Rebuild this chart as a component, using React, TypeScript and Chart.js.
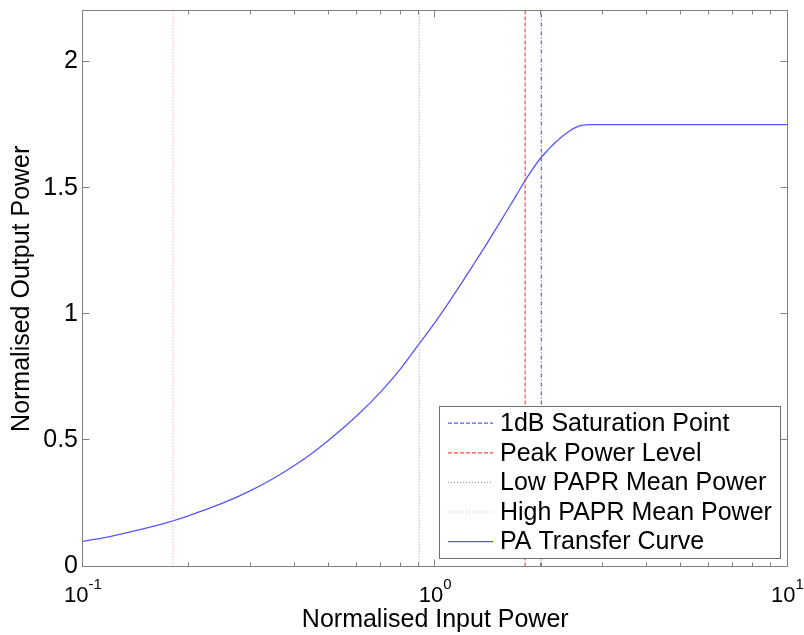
import React, { useEffect, useRef } from 'react';
import { Chart, registerables } from 'chart.js';

Chart.register(...registerables);

// ---- data ----
const curveInput = [0.1, 0.12, 0.15, 0.18, 0.2, 0.25, 0.3, 0.35, 0.4, 0.45, 0.5, 0.6, 0.7, 0.8, 0.9, 1.0, 1.1, 1.2, 1.3, 1.4, 1.5, 1.6, 1.7, 1.8, 1.9, 2.0, 2.1, 2.2, 2.3, 2.4, 2.5, 2.6, 2.75, 3, 4, 6, 10];
const curveOutput = [0.1, 0.12, 0.151, 0.181, 0.202, 0.252, 0.302, 0.352, 0.402, 0.452, 0.502, 0.598, 0.692, 0.786, 0.882, 0.968, 1.052, 1.132, 1.208, 1.278, 1.346, 1.41, 1.471, 1.529, 1.579, 1.621, 1.653, 1.681, 1.705, 1.724, 1.738, 1.747, 1.75, 1.75, 1.75, 1.75, 1.75];
const curveLabel = 'PA Transfer Curve';

const markerLabels = ['1dB Saturation Point', 'Peak Power Level', 'Low PAPR Mean Power', 'High PAPR Mean Power'];
const markerInput = [2.0, 1.8, 0.9, 0.18];

const xRange = [0.1, 10];
const yRange = [0, 2.2];
const yTickValues = [0, 0.5, 1, 1.5, 2];
const xDecadeValues = [0.1, 1, 10];
const xDecadeExponents = ['-1', '0', '1'];

const xTitle = 'Normalised Input Power';
const yTitle = 'Normalised Output Power';

// ---- styles ----
const FONT = '"Liberation Sans", Arial, Helvetica, sans-serif';
const markerColors = ['rgb(90,90,255)', 'rgb(255,70,70)', 'rgb(160,160,160)', 'rgb(255,165,165)'];
const markerDashes = [[4, 2, 1, 2], [4, 2], [1, 2], [1, 2]];
const legendDashes = [[4, 2], [4, 2], [1, 2], [1, 2], []];
const markerWidth = 1.2;
const curveColor = 'rgb(85,85,255)';
const curveWidth = 1.3;
const frameColor = '#808080';

const framePlugin = {
  id: 'matlabFrame',
  afterDraw(chart: any) {
    const { ctx, chartArea, scales } = chart;
    const { left, right, top, bottom } = chartArea;
    const xs = scales.x;
    const ys = scales.y;
    const L = Math.round(left) - 0.5;
    const R = Math.round(right) - 0.5;
    const T = Math.round(top) - 0.5;
    const B = Math.round(bottom) - 0.5;
    ctx.save();
    ctx.strokeStyle = frameColor;
    ctx.lineWidth = 1;
    ctx.setLineDash([]);
    ctx.beginPath();
    yTickValues.forEach((v) => {
      const p = Math.round(ys.getPixelForValue(v)) - 0.5;
      ctx.moveTo(L, p); ctx.lineTo(L + 7, p);
      ctx.moveTo(R, p); ctx.lineTo(R - 7, p);
    });
    for (let d = -1; d <= 1; d++) {
      for (let k = 1; k <= 9; k++) {
        const v = k * Math.pow(10, d);
        if (v < xRange[0] - 1e-9 || v > xRange[1] + 1e-9) continue;
        const p = Math.round(xs.getPixelForValue(v)) - 0.5;
        const len = k === 1 ? 7 : 4;
        ctx.moveTo(p, B); ctx.lineTo(p, B - len);
        ctx.moveTo(p, T); ctx.lineTo(p, T + len);
      }
    }
    ctx.stroke();
    ctx.strokeRect(L, T, R - L, B - T);

    // x tick labels 10^n
    ctx.fillStyle = '#000';
    ctx.textBaseline = 'alphabetic';
    ctx.textAlign = 'left';
    xDecadeValues.forEach((v, i) => {
      const px = xs.getPixelForValue(v);
      ctx.font = `22px ${FONT}`;
      const wb = ctx.measureText('10').width;
      ctx.font = `15px ${FONT}`;
      const we = ctx.measureText(xDecadeExponents[i]).width;
      const x0 = px - (wb + we) / 2;
      ctx.font = `22px ${FONT}`;
      ctx.fillText('10', x0, 602);
      ctx.font = `15px ${FONT}`;
      ctx.fillText(xDecadeExponents[i], x0 + wb, 589);
    });

    // legend
    const bx = 439.5, by = 406.5, bw = 341, bh = 152;
    ctx.fillStyle = '#fff';
    ctx.fillRect(bx, by, bw, bh);
    ctx.strokeStyle = '#6e6e6e';
    ctx.lineWidth = 1;
    ctx.strokeRect(bx, by, bw, bh);
    ctx.font = `25px ${FONT}`;
    ctx.textBaseline = 'middle';
    const labels = [...markerLabels, curveLabel];
    const colors = [...markerColors, curveColor];
    labels.forEach((label, i) => {
      const cy = 423.2 + i * 29.6;
      ctx.strokeStyle = colors[i];
      ctx.lineWidth = i === labels.length - 1 ? curveWidth : markerWidth;
      ctx.setLineDash(legendDashes[i]);
      ctx.beginPath();
      ctx.moveTo(448, cy);
      ctx.lineTo(493, cy);
      ctx.stroke();
      ctx.setLineDash([]);
      ctx.fillStyle = '#000';
      ctx.fillText(label, 500, cy + 1);
    });
    ctx.restore();
  },
};

export default function App() {
  const canvasRef = useRef<HTMLCanvasElement | null>(null);

  useEffect(() => {
    document.body.style.margin = '0';
    const canvas = canvasRef.current;
    if (!canvas) return;
    Chart.defaults.font.family = FONT;
    Chart.defaults.color = '#000';

    const markerSets = markerLabels.map((label, i) => ({
      label,
      data: [
        { x: markerInput[i], y: yRange[0] },
        { x: markerInput[i], y: yRange[1] },
      ],
      showLine: true,
      borderColor: markerColors[i],
      borderWidth: markerWidth,
      borderDash: markerDashes[i],
      pointRadius: 0,
      fill: false,
    }));

    const curveSet = {
      label: curveLabel,
      data: curveInput.map((x, i) => ({ x, y: curveOutput[i] })),
      showLine: true,
      borderColor: curveColor,
      borderWidth: curveWidth,
      pointRadius: 0,
      fill: false,
      cubicInterpolationMode: 'monotone' as const,
    };

    const chart = new Chart(canvas, {
      type: 'scatter',
      data: { datasets: [...markerSets, curveSet] as any },
      options: {
        responsive: false,
        animation: false,
        devicePixelRatio: 1,
        layout: { padding: { top: 11, right: 16.5, left: 0, bottom: 0 } },
        plugins: { legend: { display: false }, tooltip: { enabled: false } },
        scales: {
          x: {
            type: 'logarithmic',
            min: xRange[0],
            max: xRange[1],
            grid: { display: false, drawTicks: false },
            border: { display: false },
            ticks: { display: false },
            title: {
              display: true,
              text: xTitle,
              color: '#000',
              font: { family: FONT, size: 25, lineHeight: 1 },
              padding: { top: 0, bottom: 2.5 },
            },
            afterFit: (s: any) => { s.height = 68.4; },
          },
          y: {
            type: 'linear',
            min: yRange[0],
            max: yRange[1],
            grid: { display: false, drawTicks: false },
            border: { display: false },
            ticks: {
              stepSize: 0.5,
              includeBounds: false,
              padding: 5,
              color: '#000',
              font: { family: FONT, size: 25, lineHeight: 0.02 },
              callback: (v: any) => (yTickValues.includes(Number(v)) ? String(Number(v)) : ''),
            },
            title: {
              display: true,
              text: yTitle,
              color: '#000',
              font: { family: FONT, size: 25, lineHeight: 1 },
              padding: { top: 10, bottom: 0 },
            },
            afterFit: (s: any) => { s.width = 83; },
          },
        },
      },
      plugins: [framePlugin],
    });
    return () => chart.destroy();
  }, []);

  return <canvas ref={canvasRef} width={804} height={635} style={{ display: 'block' }} />;
}
